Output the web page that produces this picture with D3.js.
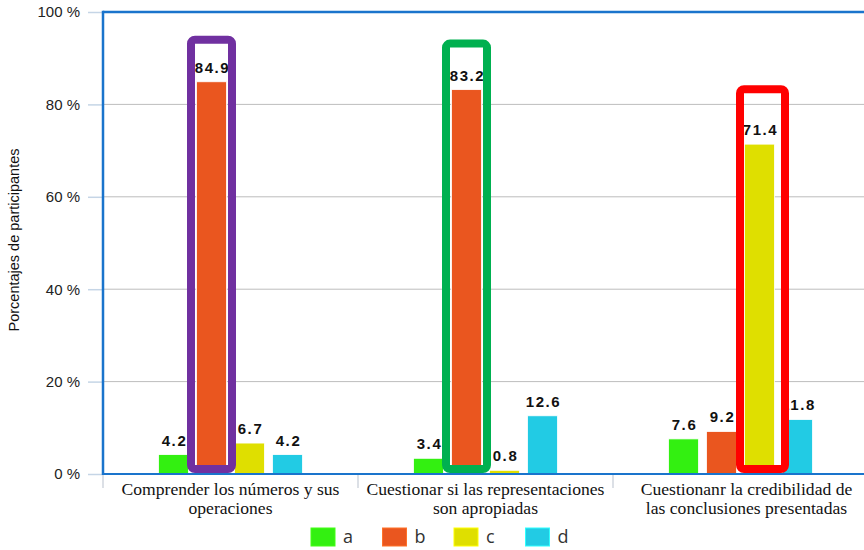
<!DOCTYPE html>
<html>
<head>
<meta charset="utf-8">
<script src="https://cdn.jsdelivr.net/npm/d3@7"></script>
<style>
  html, body { margin: 0; padding: 0; background: #fff; }
  svg { display: block; }
</style>
</head>
<body>
<svg id="chart" width="864" height="550"></svg>
<script>
// Categories (two lines each) and series
const categories = [
  ["Comprender los números y sus", "operaciones"],
  ["Cuestionar si las representaciones", "son apropiadas"],
  ["Cuestionanr la credibilidad de", "las conclusiones presentadas"]
];
const seriesNames = ["a", "b", "c", "d"];
const seriesColors = ["#33f011", "#ea561f", "#dfdf00", "#22cbe4"];

// Percent values per series, one entry per category
const valuesA = [4.2, 3.4, 7.6];
const valuesB = [84.9, 83.2, 9.2];
const valuesC = [6.7, 0.8, 71.4];
const valuesD = [4.2, 12.6, 11.8];

const yTicks = [0, 20, 40, 60, 80, 100];
const yTitle = "Porcentajes de participantes";

// Highlight frames: category index, series, colour
const highlightCat = [0, 1, 2];
const highlightSeries = ["b", "b", "c"];
const highlightColors = ["#7030a0", "#00b050", "#ff0000"];

const seriesValues = [valuesA, valuesB, valuesC, valuesD];

// Frame geometry (space above the bar, side padding, horizontal nudge)
const frameStyle = [
  { above: 42, side: 5.5, shift: 0 },
  { above: 46, side: 5.5, shift: 0 },
  { above: 55, side: 7.5, shift: 3 }
];

const svg = d3.select("#chart");
const plotLeft = 103, plotRight = 868, plotTop = 12, plotBottom = 474;

const x0 = d3.scaleBand().domain(d3.range(categories.length)).range([plotLeft, plotRight]).padding(0);
const x1 = d3.scaleBand().domain(seriesNames).range([-72, 72]).paddingInner(8 / 38).paddingOuter(0);
const y = d3.scaleLinear().domain([0, 100]).range([plotBottom, plotTop]);

// Gridlines
svg.append("g").selectAll("line").data(yTicks.filter(t => t > 0 && t < 100)).join("line")
  .attr("x1", plotLeft).attr("x2", 864).attr("y1", d => y(d)).attr("y2", d => y(d))
  .attr("stroke", "#bdbdbd").attr("stroke-width", 1);

// Y axis
const yAxis = d3.axisLeft(y).tickValues(yTicks).tickFormat(d => d + " %").tickSize(15).tickPadding(8);
const gy = svg.append("g").attr("transform", `translate(${plotLeft},0)`).call(yAxis);
gy.select(".domain").remove();
gy.selectAll(".tick line").attr("stroke", "#c5d5e6").attr("stroke-width", 1.5);
gy.selectAll(".tick text").attr("font-family", "Liberation Sans, Arial, sans-serif")
  .attr("font-size", 15).attr("fill", "#222");

// Category dividers below the baseline
const dividers = d3.range(categories.length + 1).map(i => i < categories.length ? x0(i) : plotRight);
svg.append("g").selectAll("line").data(dividers).join("line")
  .attr("x1", d => d).attr("x2", d => d).attr("y1", plotBottom).attr("y2", plotBottom + 14)
  .attr("stroke", "#d0d6de").attr("stroke-width", 1.5);

// Y title
svg.append("text")
  .attr("transform", `translate(19,${(plotTop + plotBottom) / 2 - 3}) rotate(-90)`)
  .attr("text-anchor", "middle")
  .attr("font-family", "Liberation Sans, Arial, sans-serif")
  .attr("font-size", 14.5).attr("fill", "#111")
  .text(yTitle);

// Bars
const barData = [];
categories.forEach((c, ci) => {
  seriesNames.forEach((s, si) => {
    barData.push({ ci, s, si, v: seriesValues[si][ci] });
  });
});
const barX = d => x0(d.ci) + x0.bandwidth() / 2 + x1(d.s);

svg.append("g").selectAll("rect").data(barData).join("rect")
  .attr("x", barX).attr("width", x1.bandwidth())
  .attr("y", d => y(d.v)).attr("height", d => y(0) - y(d.v))
  .attr("fill", d => seriesColors[d.si])
  .attr("stroke", "#ffffff").attr("stroke-width", 0.8);

// Value labels
svg.append("g").selectAll("text").data(barData).join("text")
  .attr("x", d => barX(d) + x1.bandwidth() / 2 + 1)
  .attr("y", d => y(d.v) - 9)
  .attr("text-anchor", "middle")
  .attr("font-family", "Liberation Sans, Arial, sans-serif")
  .attr("font-weight", "bold").attr("font-size", 15)
  .attr("letter-spacing", 1.6)
  .attr("fill", "#111")
  .text(d => d.v.toFixed(1));

// Plot frame
svg.append("line").attr("x1", plotLeft).attr("x2", 864).attr("y1", plotTop).attr("y2", plotTop)
  .attr("stroke", "#1a74cc").attr("stroke-width", 2.5);
svg.append("line").attr("x1", plotLeft).attr("x2", plotLeft).attr("y1", plotTop - 1.2).attr("y2", plotBottom + 1)
  .attr("stroke", "#1a74cc").attr("stroke-width", 2.5);
svg.append("line").attr("x1", plotLeft).attr("x2", 864).attr("y1", plotBottom).attr("y2", plotBottom)
  .attr("stroke", "#1a74cc").attr("stroke-width", 2);

// Highlight frames around the selected bars
const frames = highlightCat.map((ci, i) => {
  const si = seriesNames.indexOf(highlightSeries[i]);
  const d = { ci, s: highlightSeries[i], v: seriesValues[si][ci] };
  return { x: barX(d), v: d.v, color: highlightColors[i], st: frameStyle[i] };
});
svg.append("g").selectAll("rect").data(frames).join("rect")
  .attr("x", d => d.x - d.st.side + d.st.shift).attr("width", d => x1.bandwidth() + 2 * d.st.side)
  .attr("y", d => y(d.v) - d.st.above).attr("height", d => plotBottom - 5 - (y(d.v) - d.st.above))
  .attr("rx", 4).attr("ry", 4)
  .attr("fill", "none").attr("stroke", d => d.color).attr("stroke-width", 8);

// Category labels
const catG = svg.append("g");
categories.forEach((lines, ci) => {
  const cx = x0(ci) + x0.bandwidth() / 2 + (ci === 2 ? 6 : 0);
  const t = catG.append("text")
    .attr("x", cx)
    .attr("y", plotBottom + 21)
    .attr("text-anchor", "middle")
    .attr("font-family", "Liberation Serif, Times New Roman, serif")
    .attr("font-size", 17.6).attr("fill", "#111");
  lines.forEach((ln, li) => {
    t.append("tspan").attr("x", cx).attr("dy", li === 0 ? 0 : 19).text(ln);
  });
});

// Legend
const legend = svg.append("g").attr("transform", "translate(311,528)");
const lg = legend.selectAll("g").data(seriesNames).join("g")
  .attr("transform", (d, i) => `translate(${i * 71.5},0)`);
lg.append("rect").attr("width", 24).attr("height", 18)
  .attr("fill", (d, i) => seriesColors[i])
  .attr("stroke", (d, i) => d3.color(seriesColors[i]).brighter(0.8)).attr("stroke-width", 1);
lg.append("text").attr("x", 32).attr("y", 15)
  .attr("font-family", "Open Sans, Noto Sans, sans-serif")
  .attr("font-size", 18).attr("fill", "#333")
  .text(d => d);
</script>
</body>
</html>
